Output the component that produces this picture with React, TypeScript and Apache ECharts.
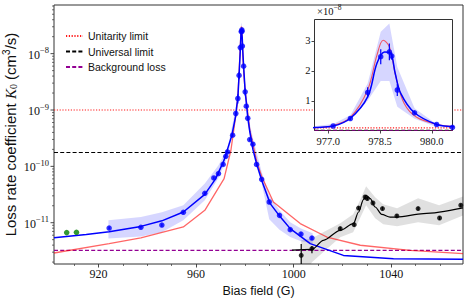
import React, { useEffect, useRef } from "react";
import * as echarts from "echarts";

// ---------- axes ----------
const X_MIN = 901.8;
const X_MAX = 1069.4;
const Y_MIN = 1.85e-12;
const Y_MAX = 7.3e-8;
const xTicks = [920, 960, 1000, 1040];
const xMinorTicks = [910, 930, 940, 950, 970, 980, 990, 1010, 1020, 1030, 1050, 1060];
const yMajorTicks = [1e-11, 1e-10, 1e-9, 1e-8];
const yMinorMultipliers = [2, 3, 4, 5, 6, 7, 8, 9];
const yDecades = [-12, -11, -10, -9, -8];

const IN_X_MIN = 976.6;
const IN_X_MAX = 980.6;
const IN_Y_MIN = 0.01;
const IN_Y_MAX = 3.71;
const insetXTicks = [977.0, 978.5, 980.0];
const insetYTicks = [1, 2, 3];

// ---------- reference levels (cm^3/s) ----------
const unitarityLimit = 1.0e-9;
const universalLimit = 1.76e-10;
const backgroundLoss = 3.24e-12;

// ---------- blue data (resonance near 978.6 G) ----------
const blueX = [924.4, 937.4, 946.0, 954.8, 963.6, 967.3, 969.2, 971.1, 972.2, 972.9, 975.0, 976.3, 977.14, 977.64, 978.14, 978.52, 978.77, 978.84, 979.0, 979.5, 980.14, 980.6, 981.2, 982.0, 983.3, 984.8, 986.9, 990.0, 994.2, 998.6, 1003.0, 1007.5];
const blueY = [8.05e-12, 8.28e-12, 9.1e-12, 1.53e-11, 3.33e-11, 6.22e-11, 7.45e-11, 1.08e-10, 1.51e-10, 1.8e-10, 3.57e-10, 8.67e-10, 1.6e-9, 4.1e-9, 1.28e-8, 2.47e-8, 2.63e-8, 2.49e-8, 1.36e-8, 6.0e-9, 2.1e-9, 1.17e-9, 7.14e-10, 2.99e-10, 2.47e-10, 1.08e-10, 5.9e-11, 2.33e-11, 1.35e-11, 7.53e-12, 6.3e-12, 5.35e-12];
const blueErr = [0.5e-12, 0.5e-12, 0.6e-12, 0.9e-12, 2e-12, 4e-12, 4.5e-12, 7e-12, 9e-12, 1.1e-11, 2.2e-11, 5e-11, 0.3e-9, 0.6e-9, 1.7e-9, 2.5e-9, 2.8e-9, 1.2e-9, 2.0e-9, 0.5e-9, 0.3e-9, 0.8e-10, 0.5e-10, 2e-11, 1.7e-11, 0.8e-11, 4e-12, 1.6e-12, 1e-12, 0.5e-12, 0.45e-12, 0.4e-12];

const blueFitX = [901.8, 915, 924.4, 937.4, 946, 954.8, 963.6, 968, 971.5, 974.7, 976.3, 976.6, 977.14, 977.64, 978.14, 978.41, 978.63, 978.8, 978.94, 979.1, 979.5, 980.14, 980.59, 981.2, 982.0, 983.3, 984.9, 987.0, 990.4, 994.5, 998.6, 1006.8, 1020.4, 1040.9, 1069.4];
const blueFitY = [5.43e-12, 6.2e-12, 6.9e-12, 8.6e-12, 1.08e-11, 1.55e-11, 3.19e-11, 6.0e-11, 1.29e-10, 3.57e-10, 8.0e-10, 1.1e-9, 1.6e-9, 4.2e-9, 1.13e-8, 2.25e-8, 2.63e-8, 2.6e-8, 1.91e-8, 1.25e-8, 6.0e-9, 2.1e-9, 1.4e-9, 7.5e-10, 4.2e-10, 2.0e-10, 1.08e-10, 5.5e-11, 2.18e-11, 1.27e-11, 7.85e-12, 4.26e-12, 2.63e-12, 2.3e-12, 2.24e-12];

const redFitX = [901.8, 924.4, 937.4, 954.8, 963.6, 971.5, 974.3, 976.6, 977.14, 977.64, 978.14, 978.41, 978.59, 978.77, 978.96, 979.2, 979.56, 980.14, 980.59, 982.0, 984.9, 987.0, 991.7, 1002.7, 1013.6, 1027.3, 1047.7, 1069.4];
const redFitY = [2.9e-12, 4.26e-12, 5.4e-12, 8.4e-12, 1.66e-11, 6.07e-11, 1.93e-10, 1.0e-9, 1.75e-9, 4.5e-9, 1.36e-8, 2.52e-8, 3.02e-8, 2.8e-8, 1.8e-8, 9.1e-9, 4.5e-9, 2.2e-9, 1.5e-9, 4.5e-10, 1.2e-10, 6.5e-11, 2.33e-11, 9.64e-12, 5.57e-12, 3.98e-12, 3.24e-12, 2.83e-12];

const bandX = [924.1, 937.4, 946.0, 954.8, 963.6, 969.2, 972.9, 976.3, 977.14, 977.64, 978.14, 978.52, 978.77, 979.0, 979.5, 980.14, 980.6, 981.2, 983.3, 986.9, 990.0, 994.2, 998.6, 1003.0, 1007.8];
const bandUpper = [1.1e-11, 1.26e-11, 1.53e-11, 2.04e-11, 4.95e-11, 1.05e-10, 2.1e-10, 1.08e-9, 2.3e-9, 5.2e-9, 1.58e-8, 3.3e-8, 3.58e-8, 2.13e-8, 7.5e-9, 2.2e-9, 1.4e-9, 8.5e-10, 3.2e-10, 8e-11, 3.0e-11, 1.66e-11, 1.02e-11, 7.9e-12, 6.5e-12];
const bandLower = [5.22e-12, 5.7e-12, 6.76e-12, 1.1e-11, 2.5e-11, 6.2e-11, 1.45e-10, 7.45e-10, 1.3e-9, 3.5e-9, 1.0e-8, 1.66e-8, 1.66e-8, 8.0e-9, 4.0e-9, 1.3e-9, 9e-10, 5.5e-10, 2.0e-10, 5e-11, 1.15e-11, 7.5e-12, 5.57e-12, 4.7e-12, 4.26e-12];

// ---------- green data ----------
const greenX = [907.0, 911.0];
const greenY = [6.67e-12, 6.76e-12];

// ---------- black data (second feature) ----------
const blackX = [1003.1, 1007.5, 1019.1, 1024.8, 1026.6, 1029.3, 1030.2, 1032.5, 1036.4, 1042.3, 1051.0, 1059.8, 1068.5];
const blackY = [2.64e-12, 3.47e-12, 7.85e-12, 9.24e-12, 1.82e-11, 2.86e-11, 2.68e-11, 2.24e-11, 1.78e-11, 1.32e-11, 1.78e-11, 1.21e-11, 2.04e-11];
const blackLow = [1.0e-12, 2.86e-12, 7.3e-12, 8.6e-12, 1.7e-11, 2.65e-11, 2.5e-11, 2.1e-11, 1.66e-11, 1.23e-11, 1.66e-11, 1.12e-11, 1.9e-11];
const blackHigh = [4.2e-12, 3.81e-12, 8.4e-12, 9.9e-12, 1.95e-11, 3.08e-11, 2.88e-11, 2.4e-11, 1.9e-11, 1.41e-11, 1.9e-11, 1.3e-11, 2.18e-11];

const blackFitX = [999.3, 1007.5, 1012.2, 1019.1, 1024.5, 1026.6, 1028.6, 1029.7, 1031.4, 1033.4, 1036.1, 1039.5, 1042.3, 1053.2, 1069.4];
const blackFitY = [3.27e-12, 3.37e-12, 4.87e-12, 7.33e-12, 9.64e-12, 1.55e-11, 2.57e-11, 3.07e-11, 2.68e-11, 1.9e-11, 1.41e-11, 1.26e-11, 1.26e-11, 1.45e-11, 1.83e-11];

const grayX = [1003.1, 1007.5, 1012.1, 1019.1, 1024.4, 1027.2, 1029.7, 1033.4, 1036.7, 1042.4, 1051.0, 1059.6, 1069.5];
const grayUpper = [4.86e-12, 5.28e-12, 6.76e-12, 9.75e-12, 1.41e-11, 2.5e-11, 4.44e-11, 2.82e-11, 2.12e-11, 1.8e-11, 2.71e-11, 2.04e-11, 2.94e-11];
const grayLower = [1.0e-12, 1.98e-12, 2.98e-12, 5.5e-12, 6.76e-12, 1.2e-11, 2.04e-11, 1.2e-11, 9.37e-12, 8.63e-12, 1.02e-11, 9e-12, 1.35e-11];

// ---------- helpers ----------
const S = 1e12; // main log axis works in units of 1e-12 cm^3/s
const SI = 1e8; // inset in units of 1e-8 cm^3/s
const SERIF = "Liberation Serif, DejaVu Serif, serif";
const SANS = "Liberation Sans, Arial, sans-serif";
const INK = "#111";
const FRAME = "#333";
const RED_FIT = "rgba(255,0,0,0.6)";

const clipOf = (params: any) => {
  const cs = params.coordSys;
  return { type: "rect", shape: { x: cs.x, y: cs.y, width: cs.width, height: cs.height } };
};

const bandRenderer = (xs: number[], lo: number[], hi: number[], k: number, fill: string) =>
  (params: any, api: any) => {
    if (params.dataIndex !== 0) return null;
    const pts: number[][] = [];
    for (let i = 0; i < xs.length; i++) pts.push(api.coord([xs[i], hi[i] * k]));
    for (let i = xs.length - 1; i >= 0; i--) pts.push(api.coord([xs[i], lo[i] * k]));
    return { type: "polygon", shape: { points: pts }, style: { fill }, clipPath: clipOf(params), silent: true };
  };

const errRenderer = (color: string, width: number) => (params: any, api: any) => {
  const x = api.value(0);
  const a = api.coord([x, api.value(1)]);
  const b = api.coord([x, api.value(2)]);
  return {
    type: "line",
    shape: { x1: a[0], y1: a[1], x2: b[0], y2: b[1] },
    style: { stroke: color, lineWidth: width },
    clipPath: clipOf(params),
    silent: true,
  };
};

const pairs = (xs: number[], ys: number[], k: number) => xs.map((x, i) => [x, ys[i] * k]);
const near = (xs: number[], ys: number[], lo: number, hi: number, k: number) =>
  xs.map((x, i) => [x, ys[i] * k]).filter((p) => p[0] >= lo && p[0] <= hi);

export default function App() {
  const ref = useRef<HTMLDivElement>(null);
  useEffect(() => {
    if (!ref.current) return;
    const chart = echarts.init(ref.current, undefined, { renderer: "svg" });

    const yMinorTicks: number[] = [];
    yDecades.forEach((d) =>
      yMinorMultipliers.forEach((m) => {
        const v = m * Math.pow(10, d);
        if (v > Y_MIN && v < Y_MAX) yMinorTicks.push(v);
      })
    );
    const yTickData = [
      ...yMajorTicks.map((v) => [X_MIN, v * S, 1]),
      ...yMinorTicks.map((v) => [X_MIN, v * S, 0]),
    ];

    const hLine = (name: string, v: number, color: string, type: any, width: number, xi: number, yi: number, k: number, x0: number, x1: number, z: number) => ({
      type: "line",
      name,
      xAxisIndex: xi,
      yAxisIndex: yi,
      data: [[x0, v * k], [x1, v * k]],
      symbol: "none",
      lineStyle: { color, type, width },
      itemStyle: { color, opacity: 0 },
      z,
      silent: true,
    });

    const INS = { left: 314.5, top: 19.5, width: 138, height: 111 };

    const option: any = {
      animation: false,
      backgroundColor: "#fff",
      grid: [
        { left: 54, top: 5, width: 409, height: 259, show: true, borderColor: FRAME, borderWidth: 1, backgroundColor: "transparent", outerBoundsMode: "none" },
        { left: INS.left, top: INS.top, width: INS.width, height: INS.height, show: false, outerBoundsMode: "none" },
      ],
      legend: {
        orient: "vertical",
        left: 65,
        top: 30,
        padding: 0,
        itemWidth: 17,
        itemHeight: 8,
        itemGap: 3.5,
        selectedMode: false,
        itemStyle: { opacity: 0 },
        textStyle: { fontSize: 10.5, fontFamily: SANS, color: INK, lineHeight: 12 },
        data: ["Unitarity limit", "Universal limit", "Background loss"],
      },
      xAxis: [
        {
          type: "value",
          gridIndex: 0,
          min: X_MIN,
          max: X_MAX,
          position: "bottom",
          axisLine: { show: false },
          splitLine: { show: false },
          axisTick: { show: true, length: 3.5, customValues: xTicks, lineStyle: { color: FRAME, width: 0.9 } },
          axisLabel: { customValues: xTicks, margin: 4, fontSize: 12, fontFamily: SERIF, color: INK, formatter: (v: number) => String(Math.round(v)) },
          name: "Bias field (G)",
          nameLocation: "middle",
          nameGap: 19,
          nameTextStyle: { fontSize: 12.5, fontFamily: SANS, color: INK },
        },
        {
          type: "value",
          gridIndex: 0,
          min: X_MIN,
          max: X_MAX,
          position: "bottom",
          axisLine: { show: false },
          splitLine: { show: false },
          axisTick: { show: true, length: 2, customValues: xMinorTicks, lineStyle: { color: FRAME, width: 0.7 } },
          axisLabel: { show: false },
        },
        {
          type: "value",
          gridIndex: 1,
          min: IN_X_MIN,
          max: IN_X_MAX,
          position: "bottom",
          z: 6,
          axisLine: { show: false },
          splitLine: { show: false },
          axisTick: { show: true, length: 3, customValues: insetXTicks, lineStyle: { color: FRAME, width: 0.9 } },
          axisLabel: { customValues: insetXTicks, margin: 5, fontSize: 10.5, fontFamily: SERIF, color: INK, formatter: (v: number) => v.toFixed(1) },
        },
      ],
      yAxis: [
        {
          type: "log",
          logBase: 10,
          gridIndex: 0,
          min: Y_MIN * S,
          max: Y_MAX * S,
          axisLine: { show: false },
          axisTick: { show: false },
          splitLine: { show: false },
          minorTick: { show: false },
          axisLabel: {
            margin: 5,
            formatter: (v: number) => {
              const l = Math.log10(v);
              const r = Math.round(l);
              if (Math.abs(l - r) > 1e-6) return "";
              return `{b|10}{s|\u2212${12 - r}}`;
            },
            rich: {
              b: { fontSize: 12, fontFamily: SERIF, color: INK, lineHeight: 14, verticalAlign: "bottom" },
              s: { fontSize: 8.5, fontFamily: SERIF, color: INK, lineHeight: 9, padding: [0, 0, 7, 0] },
            },
          },
          name: "{a|Loss rate coefficient }{k|K}{sub|0}{a| (cm}{sup|3}{a|/s)}",
          nameLocation: "middle",
          nameGap: 36,
          nameMoveOverlap: false,
          nameTextStyle: {
            rich: {
              a: { fontSize: 15, fontFamily: SANS, color: INK, lineHeight: 17, verticalAlign: "bottom" },
              k: { fontSize: 15, fontFamily: SERIF, fontStyle: "italic", color: INK, lineHeight: 17, verticalAlign: "bottom" },
              sub: { fontSize: 10, fontFamily: SERIF, color: INK, lineHeight: 10, padding: [7, 0, 0, 0] },
              sup: { fontSize: 10, fontFamily: SANS, color: INK, lineHeight: 10, padding: [0, 0, 7, 0] },
            },
          },
        },
        {
          type: "value",
          gridIndex: 1,
          min: IN_Y_MIN,
          max: IN_Y_MAX,
          z: 6,
          axisLine: { show: false },
          splitLine: { show: false },
          axisTick: { show: true, length: 3, customValues: insetYTicks, lineStyle: { color: FRAME, width: 0.9 } },
          axisLabel: { customValues: insetYTicks, margin: 4, fontSize: 10.5, fontFamily: SERIF, color: INK },
        },
      ],
      graphic: [
        {
          type: "rect",
          z: 4,
          shape: { x: INS.left, y: INS.top, width: INS.width, height: INS.height },
          style: { fill: "#fff", stroke: FRAME, lineWidth: 1 },
          silent: true,
        },
        {
          type: "text",
          z: 6,
          x: 317,
          y: 4,
          style: {
            text: "{a|\u00d710}{s|\u22128}",
            rich: {
              a: { fontSize: 10.5, fontFamily: SERIF, fill: INK, lineHeight: 13, verticalAlign: "bottom" },
              s: { fontSize: 7.5, fontFamily: SERIF, fill: INK, lineHeight: 8, padding: [0, 0, 6, 0] },
            },
          },
          silent: true,
        },
      ],
      series: [
        // ---------- main panel ----------
        {
          type: "custom",
          name: "blue band",
          xAxisIndex: 0,
          yAxisIndex: 0,
          clip: true,
          z: 1,
          data: bandX.map((x, i) => [x, bandLower[i] * S, bandUpper[i] * S]),
          encode: { x: 0, y: [1, 2] },
          renderItem: bandRenderer(bandX, bandLower, bandUpper, S, "rgba(0,0,255,0.16)"),
        },
        {
          type: "custom",
          name: "gray band",
          xAxisIndex: 0,
          yAxisIndex: 0,
          clip: true,
          z: 1,
          data: grayX.map((x, i) => [x, grayLower[i] * S, grayUpper[i] * S]),
          encode: { x: 0, y: [1, 2] },
          renderItem: bandRenderer(grayX, grayLower, grayUpper, S, "rgba(0,0,0,0.12)"),
        },
        {
          type: "custom",
          name: "y ticks",
          xAxisIndex: 0,
          yAxisIndex: 0,
          z: 2,
          data: yTickData,
          encode: { x: 0, y: 1 },
          renderItem: (params: any, api: any) => {
            const p = api.coord([api.value(0), api.value(1)]);
            const major = api.value(2) === 1;
            const len = major ? 3.5 : 2;
            return {
              type: "line",
              shape: { x1: p[0] - len, y1: p[1], x2: p[0], y2: p[1] },
              style: { stroke: FRAME, lineWidth: major ? 0.9 : 0.7 },
              silent: true,
            };
          },
        },
        hLine("Unitarity limit", unitarityLimit, "#ff1a1a", [1.2, 1.6], 1.2, 0, 0, S, X_MIN, X_MAX, 2),
        hLine("Universal limit", universalLimit, "#000000", [4, 2.2], 1.2, 0, 0, S, X_MIN, X_MAX, 2),
        hLine("Background loss", backgroundLoss, "#930093", [4, 2.2], 1.2, 0, 0, S, X_MIN, X_MAX, 2),
        {
          type: "line",
          name: "fit red",
          xAxisIndex: 0,
          yAxisIndex: 0,
          data: pairs(redFitX, redFitY, S),
          symbol: "none",
          lineStyle: { color: RED_FIT, width: 1.3 },
          z: 2,
          silent: true,
        },
        {
          type: "line",
          name: "fit blue",
          xAxisIndex: 0,
          yAxisIndex: 0,
          data: pairs(blueFitX, blueFitY, S),
          symbol: "none",
          lineStyle: { color: "#0000ff", width: 1.5 },
          z: 2,
          silent: true,
        },
        {
          type: "line",
          name: "fit black",
          xAxisIndex: 0,
          yAxisIndex: 0,
          data: pairs(blackFitX, blackFitY, S),
          symbol: "none",
          smooth: 0.3,
          smoothMonotone: "x",
          lineStyle: { color: "#000000", width: 1.2 },
          z: 2,
          silent: true,
        },
        {
          type: "custom",
          name: "blue err",
          xAxisIndex: 0,
          yAxisIndex: 0,
          clip: true,
          z: 3,
          data: blueX.map((x, i) => [x, (blueY[i] - blueErr[i]) * S, (blueY[i] + blueErr[i]) * S]),
          encode: { x: 0, y: [1, 2] },
          renderItem: errRenderer("#0000ff", 1.2),
        },
        {
          type: "custom",
          name: "black err",
          xAxisIndex: 0,
          yAxisIndex: 0,
          clip: true,
          z: 3,
          data: blackX.map((x, i) => [x, blackLow[i] * S, blackHigh[i] * S]),
          encode: { x: 0, y: [1, 2] },
          renderItem: errRenderer("#000000", 1.2),
        },
        {
          type: "scatter",
          name: "blue pts",
          xAxisIndex: 0,
          yAxisIndex: 0,
          data: pairs(blueX, blueY, S),
          symbol: "circle",
          symbolSize: 5.5,
          itemStyle: { color: "#0000ff" },
          z: 3,
          silent: true,
        },
        {
          type: "scatter",
          name: "green pts",
          xAxisIndex: 0,
          yAxisIndex: 0,
          data: pairs(greenX, greenY, S),
          symbol: "circle",
          symbolSize: 5.5,
          itemStyle: { color: "#008000" },
          z: 3,
          silent: true,
        },
        {
          type: "scatter",
          name: "black pts",
          xAxisIndex: 0,
          yAxisIndex: 0,
          data: pairs(blackX, blackY, S),
          symbol: "circle",
          symbolSize: 5,
          itemStyle: { color: "#000000" },
          z: 3,
          silent: true,
        },
        // ---------- inset ----------
        {
          type: "custom",
          name: "blue band inset",
          xAxisIndex: 2,
          yAxisIndex: 1,
          clip: true,
          z: 5,
          data: bandX.map((x, i) => [x, bandLower[i] * SI, bandUpper[i] * SI]),
          encode: { x: 0, y: [1, 2] },
          renderItem: bandRenderer(bandX, bandLower, bandUpper, SI, "rgba(0,0,255,0.16)"),
        },
        hLine("unitarity inset", unitarityLimit, "#ff1a1a", [1.2, 1.6], 1.2, 2, 1, SI, IN_X_MIN, IN_X_MAX, 5),
        hLine("universal inset", universalLimit, "#000000", [4, 2.2], 1.2, 2, 1, SI, IN_X_MIN, IN_X_MAX, 5),
        hLine("background inset", backgroundLoss, "#930093", [4, 2.2], 1.2, 2, 1, SI, IN_X_MIN, IN_X_MAX, 5),
        {
          type: "line",
          name: "fit red inset",
          xAxisIndex: 2,
          yAxisIndex: 1,
          data: near(redFitX, redFitY, IN_X_MIN - 0.7, IN_X_MAX + 0.7, SI),
          symbol: "none",
          smooth: 0.35,
          lineStyle: { color: RED_FIT, width: 1.1 },
          z: 5,
          silent: true,
        },
        {
          type: "line",
          name: "fit blue inset",
          xAxisIndex: 2,
          yAxisIndex: 1,
          data: near(blueFitX, blueFitY, IN_X_MIN - 0.7, IN_X_MAX + 0.7, SI),
          symbol: "none",
          smooth: 0.35,
          lineStyle: { color: "#0000ff", width: 1.5 },
          z: 5,
          silent: true,
        },
        {
          type: "custom",
          name: "blue err inset",
          xAxisIndex: 2,
          yAxisIndex: 1,
          clip: true,
          z: 6,
          data: blueX.map((x, i) => [x, (blueY[i] - blueErr[i]) * SI, (blueY[i] + blueErr[i]) * SI]),
          encode: { x: 0, y: [1, 2] },
          renderItem: errRenderer("#0000ff", 1.2),
        },
        {
          type: "scatter",
          name: "blue pts inset",
          xAxisIndex: 2,
          yAxisIndex: 1,
          data: pairs(blueX, blueY, SI),
          symbol: "circle",
          symbolSize: 5.5,
          itemStyle: { color: "#0000ff" },
          z: 6,
          silent: true,
        },
      ],
    };

    chart.setOption(option);
    return () => chart.dispose();
  }, []);

  return (
    <div
      ref={ref}
      style={{ position: "fixed", left: 0, top: 0, width: 469, height: 300, background: "#fff" }}
    />
  );
}
